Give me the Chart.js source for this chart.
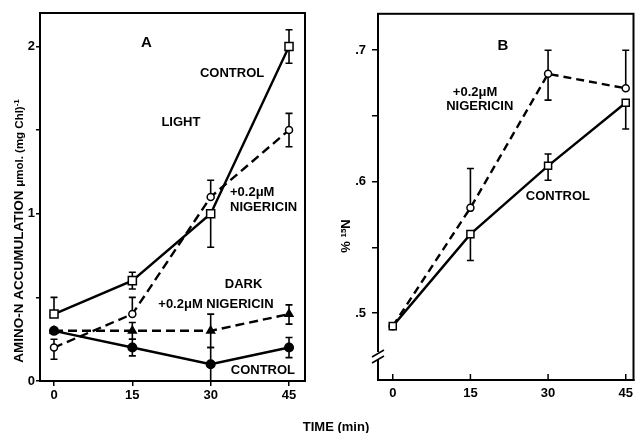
<!DOCTYPE html>
<html>
<head>
<meta charset="utf-8">
<title>Amino-N accumulation</title>
<script src="https://cdn.jsdelivr.net/npm/chart.js@4.4.0/dist/chart.umd.min.js"></script>
<style>
  body { margin: 0; background: #fff; }
  #wrap { position: relative; width: 640px; height: 433px; overflow: hidden; }
  .panel { position: absolute; top: 0; height: 433px; }
  #boxA { left: 0; width: 330px; }
  #boxB { left: 330px; width: 310px; }
  #timeLabel { position: absolute; left: 286px; width: 100px; top: 419px; text-align: center;
    font: bold 13px "Liberation Sans", Arial, sans-serif; color: #000; }
</style>
</head>
<body>
<div id="wrap">
  <div class="panel" id="boxA"><canvas id="chartA"></canvas></div>
  <div class="panel" id="boxB"><canvas id="chartB"></canvas></div>
  <div id="timeLabel">TIME (min)</div>
</div>
<script>
// ---- data ----
const times = [0, 15, 30, 45];
const xTicks = [0, 15, 30, 45];

// panel A : amino-N accumulation
const lightControl = [0.4, 0.6, 1.0, 2.0];
const lightControlUp = [0.1, 0.05, 0, 0.1];
const lightControlDown = [0, 0.05, 0.2, 0.1];
const lightNig = [0.2, 0.4, 1.1, 1.5];
const lightNigUp = [0.05, 0.1, 0.1, 0.1];
const lightNigDown = [0.07, 0, 0, 0.1];
const darkNig = [0.3, 0.3, 0.3, 0.4];
const darkNigUp = [0, 0.05, 0.1, 0.055];
const darkNigDown = [0, 0.05, 0.1, 0.06];
const darkControl = [0.3, 0.2, 0.1, 0.2];
const darkControlUp = [0, 0.05, 0.1, 0.06];
const darkControlDown = [0, 0.05, 0.1, 0.06];
const yTicksA = [0, 0.5, 1, 1.5, 2];
const yLabelsA = ['0', '', '1', '', '2'];

// panel B : % 15N
const controlB = [0.49, 0.56, 0.612, 0.66];
const controlBUp = [0, 0, 0.009, 0];
const controlBDown = [0, 0.02, 0.011, 0.02];
const nigB = [0.49, 0.58, 0.682, 0.671];
const nigBUp = [0, 0.03, 0.018, 0.029];
const nigBDown = [0, 0, 0.02, 0];
const yTicksB = [0.5, 0.55, 0.6, 0.65, 0.7];
const yLabelsB = ['.5', '', '.6', '', '.7'];

const notesA = [
  { text: 'A', t: 17.7, v: 2.02, size: 15 },
  { text: 'CONTROL', t: 34.1, v: 1.84 },
  { text: 'LIGHT', t: 24.3, v: 1.545 },
  { text: '+0.2\u03bcM', t: 33.7, v: 1.126, align: 'left' },
  { text: 'NIGERICIN', t: 33.7, v: 1.04, align: 'left' },
  { text: 'DARK', t: 36.3, v: 0.58 },
  { text: '+0.2\u03bcM NIGERICIN', t: 31.0, v: 0.455 },
  { text: 'CONTROL', t: 40.0, v: 0.066 }
];
const notesB = [
  { text: 'B', t: 21.3, v: 0.703, size: 15 },
  { text: '+0.2\u03bcM', t: 15.9, v: 0.668 },
  { text: 'NIGERICIN', t: 16.8, v: 0.657 },
  { text: 'CONTROL', t: 31.9, v: 0.589 }
];

const FONT = '"Liberation Sans", Arial, sans-serif';
const pts = vals => times.map((t, i) => ({ x: t, y: vals[i] }));

// error bars drawn under the markers
const errorBars = {
  id: 'errorBars',
  beforeDatasetsDraw(chart) {
    const ctx = chart.ctx, ys = chart.scales.y, xs = chart.scales.x;
    ctx.save();
    ctx.strokeStyle = '#000';
    ctx.lineWidth = 1.6;
    chart.data.datasets.forEach(ds => {
      if (!ds.errUp) return;
      ds.data.forEach((p, j) => {
        const px = xs.getPixelForValue(p.x);
        [[ds.errUp[j], 1], [ds.errDown[j], -1]].forEach(([e, s]) => {
          if (!e) return;
          const py0 = ys.getPixelForValue(p.y);
          const py1 = ys.getPixelForValue(p.y + s * e);
          ctx.beginPath();
          ctx.moveTo(px, py0); ctx.lineTo(px, py1);
          ctx.moveTo(px - 3.5, py1); ctx.lineTo(px + 3.5, py1);
          ctx.stroke();
        });
      });
    });
    ctx.restore();
  }
};

// frame, text notes, axis titles
const decor = {
  id: 'decor',
  afterDraw(chart) {
    const o = chart.options.plugins.decor;
    const ctx = chart.ctx, a = chart.chartArea;
    const xs = chart.scales.x, ys = chart.scales.y;
    ctx.save();
    ctx.strokeStyle = '#000';
    ctx.lineWidth = 2;
    ctx.strokeRect(a.left, a.top, a.right - a.left, a.bottom - a.top);

    if (o.innerXTicks) {
      ctx.lineWidth = 1.5;
      xTicks.forEach(t => {
        const px = xs.getPixelForValue(t);
        ctx.beginPath(); ctx.moveTo(px, a.bottom); ctx.lineTo(px, a.bottom - 6); ctx.stroke();
      });
    }
    if (o.breakAt) {
      const bx = a.left, by = o.breakAt;
      ctx.fillStyle = '#fff';
      ctx.fillRect(bx - 3, by - 4, 6, 8);
      ctx.lineWidth = 1.5;
      ctx.beginPath();
      ctx.moveTo(bx - 6, by + 1); ctx.lineTo(bx + 6, by - 6);
      ctx.moveTo(bx - 6, by + 7); ctx.lineTo(bx + 6, by);
      ctx.stroke();
    }

    ctx.fillStyle = '#000';
    ctx.textBaseline = 'middle';
    o.notes.forEach(n => {
      ctx.font = 'bold ' + (n.size || 13) + 'px ' + FONT;
      ctx.textAlign = n.align || 'center';
      ctx.fillText(n.text, xs.getPixelForValue(n.t), ys.getPixelForValue(n.v));
    });

    // rotated y title made of parts
    const parts = o.yTitle.parts;
    let total = 0;
    parts.forEach(p => { ctx.font = 'bold ' + p.size + 'px ' + FONT; p.w = ctx.measureText(p.text).width; total += p.w; });
    ctx.translate(o.yTitle.x, o.yTitle.y);
    ctx.rotate(-Math.PI / 2);
    ctx.textAlign = 'left';
    ctx.textBaseline = 'alphabetic';
    let cx = -total / 2;
    parts.forEach(p => {
      ctx.font = 'bold ' + p.size + 'px ' + FONT;
      ctx.fillText(p.text, cx, 4.5 + (p.rise || 0));
      cx += p.w;
    });
    ctx.restore();
  }
};

function lineSet(vals, up, down, opts) {
  return Object.assign({
    data: pts(vals), errUp: up, errDown: down,
    borderColor: '#000', borderWidth: 2.4,
    pointBorderColor: '#000', pointBorderWidth: 1.5,
    pointBackgroundColor: '#fff', fill: false, tension: 0
  }, opts);
}

function axisCommon(ticks, labels, tickLen, pad, fit, dim) {
  return {
    type: 'linear',
    border: { display: true, color: '#000', width: 2 },
    grid: { display: true, drawOnChartArea: false, drawTicks: tickLen > 0, tickLength: tickLen, color: '#000', lineWidth: 1.5 },
    ticks: { color: '#000', font: { family: FONT, size: 13, weight: 'bold' }, padding: pad,
      autoSkip: false, maxRotation: 0, callback: (v, i) => labels[i] },
    afterBuildTicks: s => { s.ticks = ticks.map(v => ({ value: v })); },
    afterFit: s => { s[dim] = fit; }
  };
}

Chart.defaults.animation = false;

new Chart('chartA', {
  type: 'line',
  data: {
    datasets: [
      lineSet(lightControl, lightControlUp, lightControlDown, { pointStyle: 'rect', pointRadius: 5.7 }),
      lineSet(lightNig, lightNigUp, lightNigDown, { pointStyle: 'circle', pointRadius: 3.5, borderDash: [9, 5] }),
      lineSet(darkNig, darkNigUp, darkNigDown, { pointStyle: 'triangle', pointRadius: 4.5, pointBackgroundColor: '#000', borderDash: [9, 5] }),
      lineSet(darkControl, darkControlUp, darkControlDown, { pointStyle: 'circle', pointRadius: 4.3, pointBackgroundColor: '#000' })
    ]
  },
  options: {
    responsive: true, maintainAspectRatio: false,
    layout: { padding: { left: 0, right: 25, top: 13, bottom: 0 } },
    plugins: {
      legend: { display: false }, tooltip: { enabled: false },
      decor: {
        notes: notesA,
        yTitle: { x: 18, y: 231, parts: [
          { text: 'AMINO-N ACCUMULATION ', size: 13.5 },
          { text: '\u03bcmol. (mg Chl)', size: 11.5 },
          { text: '-1', size: 8, rise: -4 }
        ] }
      }
    },
    scales: {
      x: Object.assign(axisCommon(xTicks, xTicks.map(String), 5, 2, 52, 'height'), { min: -2.68, max: 48.06 }),
      y: Object.assign(axisCommon(yTicksA, yLabelsA, 4, 1, 40, 'width'), { min: 0, max: 2.2 })
    }
  },
  plugins: [errorBars, decor]
});

new Chart('chartB', {
  type: 'line',
  data: {
    datasets: [
      lineSet(controlB, controlBUp, controlBDown, { pointStyle: 'rect', pointRadius: 5 }),
      lineSet(nigB, nigBUp, nigBDown, { pointStyle: 'circle', pointRadius: 3.5, borderDash: [8, 5] })
    ]
  },
  options: {
    responsive: true, maintainAspectRatio: false,
    layout: { padding: { left: 0, right: 2, top: 12, bottom: 0 } },
    plugins: {
      legend: { display: false }, tooltip: { enabled: false },
      decor: {
        notes: notesB,
        innerXTicks: true,
        breakAt: 356,
        yTitle: { x: 15, y: 236, parts: [
          { text: '% ', size: 13 },
          { text: '15', size: 8, rise: -4 },
          { text: 'N', size: 13 }
        ] }
      }
    },
    scales: {
      x: Object.assign(axisCommon(xTicks, xTicks.map(String), 0, 6, 53, 'height'), { min: -2.85, max: 46.5 }),
      y: Object.assign(axisCommon(yTicksB, yLabelsB, 6, 6, 48, 'width'), { min: 0.449, max: 0.7277 })
    }
  },
  plugins: [errorBars, decor]
});
</script>
</body>
</html>
